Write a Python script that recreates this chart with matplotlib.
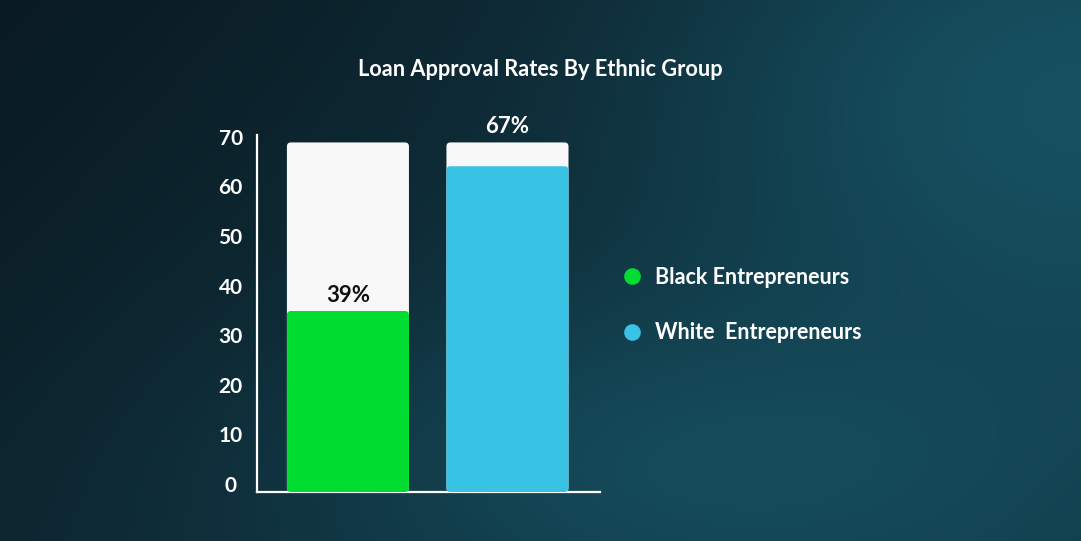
import numpy as np
import matplotlib
matplotlib.use("Agg")
import matplotlib.pyplot as plt
from matplotlib.patches import FancyBboxPatch
from matplotlib.lines import Line2D
from matplotlib.transforms import ScaledTranslation

groups = ["Black Entrepreneurs", "White  Entrepreneurs"]
bar_values = [36.5, 65.7]
bar_labels = ["39%", "67%"]
back_value = 70.5
yticks = [0, 10, 20, 30, 40, 50, 60, 70]

bar_colors = ["#00dd30", "#38c3e5"]
label_colors = ["#111111", "#ffffff"]

plt.rcParams['font.family'] = ['Lato', 'DejaVu Sans']

fig = plt.figure(figsize=(10.81, 5.41), dpi=100)

# background gradient
bg = fig.add_axes([0, 0, 1, 1], zorder=-10)
h, w = 541, 1081
yy, xx = np.mgrid[0:h, 0:w]
xn = xx / w
yn = yy / h
dark = np.array([10, 26, 34]) / 255.0
light = np.array([24, 88, 106]) / 255.0
t = np.clip(0.75 * xn + 0.35 * yn, 0, 1)
g1 = np.exp(-(((xn - 0.95) / 0.35) ** 2 + ((yn - 0.15) / 0.45) ** 2))
g2 = np.exp(-(((xn - 0.6) / 0.35) ** 2 + ((yn - 0.85) / 0.3) ** 2))
t = np.clip(0.55 * t + 0.45 * g1 + 0.35 * g2, 0, 1)
img = dark[None, None, :] * (1 - t[..., None]) + light[None, None, :] * t[..., None]
bg.imshow(img, aspect='auto', extent=[0, 1, 0, 1], origin='upper')
bg.axis('off')

ax = fig.add_axes([257 / 1081, 49 / 541, 343 / 1081, 357 / 541])
ax.set_facecolor('none')
ax.set_xlim(-0.57, 1.58)
ax.set_ylim(0, 72)

width = 0.765
rs = 0.025
asp = 32.2
for i, v in enumerate(bar_values):
    back = FancyBboxPatch((i - width / 2, 0), width, back_value,
                          boxstyle="round,pad=0,rounding_size=%f" % rs,
                          mutation_aspect=asp, facecolor="#f8f8f8",
                          edgecolor='none', zorder=2)
    ax.add_patch(back)
    bar = FancyBboxPatch((i - width / 2, 0), width, v,
                         boxstyle="round,pad=0,rounding_size=%f" % rs,
                         mutation_aspect=asp, facecolor=bar_colors[i],
                         edgecolor='none', zorder=3)
    ax.add_patch(bar)

ax.text(0, bar_values[0] + 3.1, bar_labels[0], ha='center', va='center',
        fontsize=16, fontweight='bold', color=label_colors[0], zorder=4)
ax.text(1, back_value + 3.2, bar_labels[1], ha='center', va='center',
        fontsize=16, fontweight='bold', color=label_colors[1], zorder=4,
        clip_on=False)

for s in ['top', 'right']:
    ax.spines[s].set_visible(False)
for s in ['left', 'bottom']:
    ax.spines[s].set_color('white')
    ax.spines[s].set_linewidth(1.6)

ax.set_xticks([])
ax.set_yticks(yticks)
ax.tick_params(axis='y', length=0, pad=19, labelsize=15, labelcolor='white')
for lab in ax.get_yticklabels():
    lab.set_horizontalalignment('center')
    lab.set_fontweight('bold')
    lab.set_transform(lab.get_transform() + ScaledTranslation(0, 0.08, fig.dpi_scale_trans))

fig.text(540 / 1081, 1 - 70 / 541, "Loan Approval Rates By Ethnic Group",
         ha='center', va='center', fontsize=15.7, fontweight='bold', color='white')

handles = [Line2D([], [], marker='o', linestyle='', markersize=12,
                  markerfacecolor=c, markeredgecolor='none') for c in bar_colors]
leg = fig.legend(handles, groups, loc='center left',
                 bbox_to_anchor=(600 / 1081, 1 - 305 / 541), frameon=False,
                 handletextpad=0.45, labelspacing=1.6, handlelength=1.2,
                 prop={'size': 15.5, 'weight': 'bold'})
for txt in leg.get_texts():
    txt.set_color('white')

fig.savefig("out.png", dpi=100)
